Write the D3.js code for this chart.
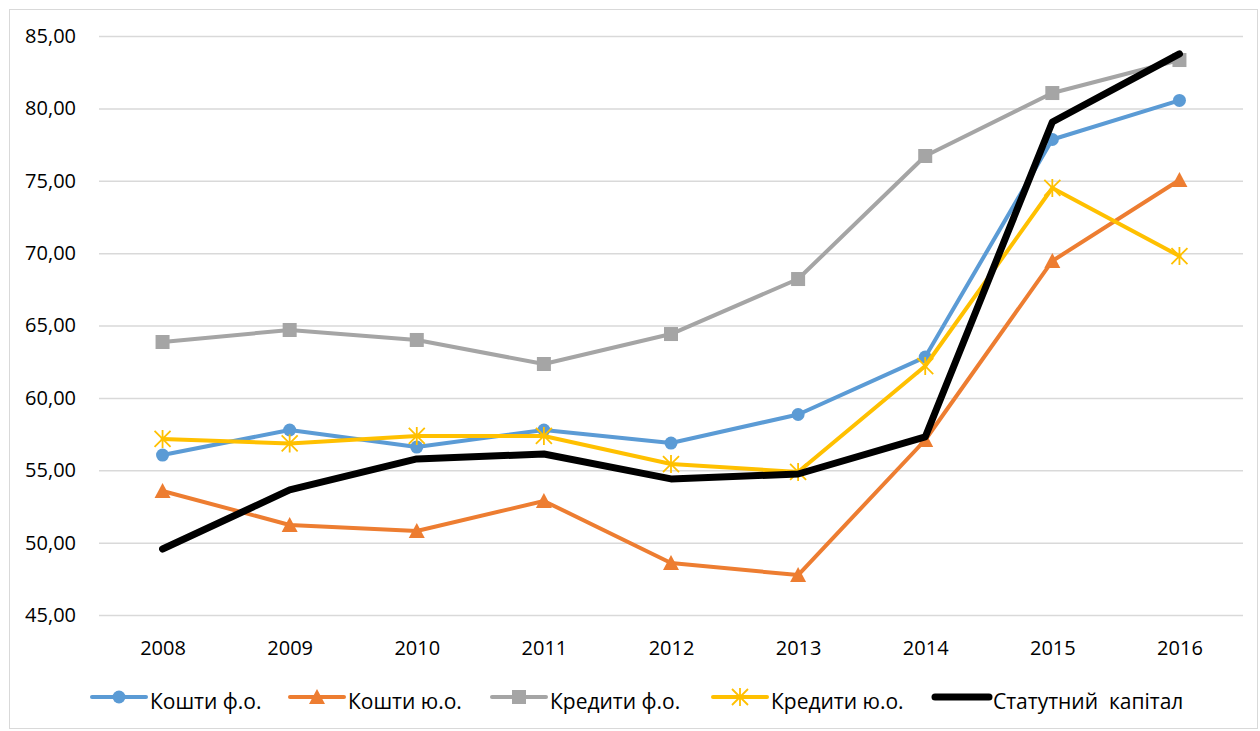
<!DOCTYPE html>
<html>
<head>
<meta charset="utf-8">
<script src="https://cdn.jsdelivr.net/npm/d3@7"></script>
<style>
  body { margin: 0; background: #fff; }
  svg text { font-family: "Open Sans", "Noto Sans", sans-serif; fill: #000; white-space: pre; }
</style>
</head>
<body>
<script>
// дані з графіка
var years = ["2008", "2009", "2010", "2011", "2012", "2013", "2014", "2015", "2016"];
var yTicks = [45, 50, 55, 60, 65, 70, 75, 80, 85];
var koshtyFo = [56.05, 57.78, 56.60, 57.78, 56.88, 58.85, 62.82, 77.85, 80.55];
var koshtyYo = [53.57, 51.22, 50.80, 52.88, 48.59, 47.76, 57.09, 69.46, 75.05];
var kredytyFo = [63.86, 64.69, 64.00, 62.34, 64.41, 68.21, 76.71, 81.06, 83.34];
var kredytyYo = [57.16, 56.85, 57.37, 57.37, 55.43, 54.88, 62.20, 74.50, 69.80];
var statKapital = [49.56, 53.64, 55.78, 56.12, 54.40, 54.74, 57.30, 79.06, 83.76];

var series = [
  {name: "Кошти ф.о.", values: koshtyFo, color: "#5b9bd5", width: 4, marker: "circle"},
  {name: "Кошти ю.о.", values: koshtyYo, color: "#ed7d31", width: 4, marker: "triangle"},
  {name: "Кредити ф.о.", values: kredytyFo, color: "#a5a5a5", width: 4, marker: "square"},
  {name: "Кредити ю.о.", values: kredytyYo, color: "#ffc000", width: 4, marker: "asterisk"},
  {name: "Статутний  капітал", values: statKapital, color: "#000000", width: 7, marker: null}
];

var W = 1260, H = 731;
var margin = {left: 99, right: 17, top: 36, bottom: 116};

var svg = d3.select("body").append("svg")
    .attr("width", W)
    .attr("height", H);

// рамка
svg.append("rect")
    .attr("x", 9.5).attr("y", 9.5)
    .attr("width", W - 12).attr("height", H - 12)
    .attr("fill", "none")
    .attr("stroke", "#d9d9d9");

var x = d3.scalePoint()
    .domain(years)
    .range([margin.left, W - margin.right])
    .padding(0.5);

var y = d3.scaleLinear()
    .domain([45, 85])
    .range([H - margin.bottom, margin.top]);

var fmt = function(d) { return d3.format(".2f")(d).replace(".", ","); };

// y axis with gridlines
var yAxis = svg.append("g")
    .attr("transform", "translate(" + margin.left + ",0)")
    .call(d3.axisLeft(y).tickValues(yTicks).tickFormat(fmt)
      .tickSize(-(W - margin.left - margin.right)).tickPadding(23));
yAxis.select(".domain").remove();
yAxis.selectAll(".tick line").attr("stroke", "#d9d9d9").attr("stroke-width", 1.5);
yAxis.selectAll(".tick text").style("font-size", "20px");

// x axis
var xAxis = svg.append("g")
    .attr("transform", "translate(0," + (H - margin.bottom) + ")")
    .call(d3.axisBottom(x).tickSize(0).tickPadding(26));
xAxis.select(".domain").remove();
xAxis.selectAll(".tick text").style("font-size", "20px");

var line = d3.line()
    .x(function(d, i) { return x(years[i]); })
    .y(function(d) { return y(d); });

function drawMarker(g, type, color) {
  if (type == "circle") {
    g.append("circle").attr("r", 6.5).attr("fill", color);
  } else if (type == "triangle") {
    g.append("path").attr("d", "M0,-8L8,7L-8,7Z").attr("fill", color);
  } else if (type == "square") {
    g.append("rect").attr("x", -7).attr("y", -7).attr("width", 14).attr("height", 14).attr("fill", color);
  } else if (type == "asterisk") {
    g.append("path")
      .attr("d", "M0,-9V9M-8,-8L8,8M-8,8L8,-8")
      .attr("stroke", color).attr("stroke-width", 1.8).attr("fill", "none");
  }
}

series.forEach(function(s) {
  svg.append("path")
      .datum(s.values)
      .attr("d", line)
      .attr("fill", "none")
      .attr("stroke", s.color)
      .attr("stroke-width", s.width)
      .attr("stroke-linejoin", "round")
      .attr("stroke-linecap", "round");

  if (s.marker) {
    s.values.forEach(function(v, i) {
      var g = svg.append("g")
          .attr("transform", "translate(" + x(years[i]) + "," + y(v) + ")");
      drawMarker(g, s.marker, s.color);
    });
  }
});

// legend
var legendX = [92, 290, 492, 713, 935];
var legendY = 697;
series.forEach(function(s, i) {
  var g = svg.append("g").attr("transform", "translate(" + legendX[i] + "," + legendY + ")");
  g.append("line")
      .attr("x1", 0).attr("x2", 54)
      .attr("stroke", s.color)
      .attr("stroke-width", s.width)
      .attr("stroke-linecap", "round");
  if (s.marker) {
    var m = g.append("g").attr("transform", "translate(27,0)");
    drawMarker(m, s.marker, s.color);
  }
  g.append("text")
      .attr("x", 58)
      .attr("y", 12)
      .style("font-size", "21px")
      .text(s.name);
});
</script>
</body>
</html>
